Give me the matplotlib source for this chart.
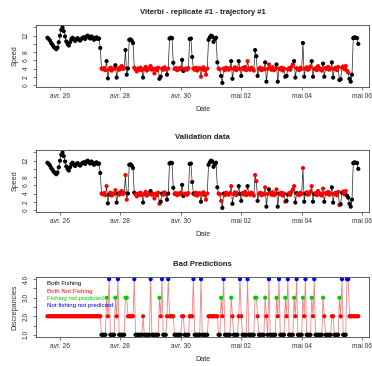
import matplotlib
matplotlib.use('Agg')
import matplotlib.pyplot as plt
import matplotlib.dates as mdates
import numpy as np
import pandas as pd

# hourly speed samples, one row per 24 h, starting 25 April 14:00
speed = [
    11.5, 11.2, 10.8, 10.2, 9.8, 9.3, 9.0, 8.7, 9.1, 10.4, 12.0, 13.4, 14.0, 13.1, 11.8, 10.6, 10.0, 9.6, 10.4, 11.2, 11.5, 11.0, 10.7, 11.2,
    11.4, 11.0, 10.8, 11.2, 11.5, 11.6, 11.2, 11.8, 12.0, 11.6, 11.3, 11.8, 11.5, 11.0, 11.4, 11.6, 11.2, 11.3, 9.0, 4.0, 3.8, 4.1, 3.6, 5.8,
    1.6, 3.8, 4.2, 3.5, 4.0, 3.9, 4.8, 1.8, 4.0, 3.7, 4.3, 4.6, 3.9, 4.1, 8.5, 2.5, 4.0, 11.0, 11.1, 10.8, 10.2, 4.2, 3.8, 3.3,
    4.0, 3.7, 4.2, 3.6, 1.8, 3.9, 4.4, 3.5, 3.8, 4.1, 4.6, 3.7, 3.9, 2.8, 4.0, 3.6, 4.2, 1.5, 2.0, 4.0, 3.7, 4.3, 3.8, 2.5,
    4.0, 11.3, 11.5, 11.4, 5.4, 3.9, 4.1, 3.6, 4.0, 3.8, 4.2, 6.1, 3.4, 3.9, 4.0, 3.7, 4.1, 11.2, 11.3, 6.8, 4.0, 3.7, 4.2, 3.5,
    3.9, 4.1, 2.0, 3.8, 4.3, 3.6, 2.5, 4.0, 11.0, 11.6, 12.0, 11.8, 10.5, 11.2, 11.5, 5.5, 4.0, 3.8, 2.2, 0.5, 4.0, 3.6, 4.2, 3.9,
    3.7, 4.1, 5.8, 1.5, 3.9, 4.3, 3.6, 4.0, 5.8, 3.9, 2.2, 4.1, 3.8, 4.4, 3.6, 5.8, 4.0, 3.7, 4.2, 3.9, 3.5, 8.5, 7.0, 2.2,
    3.9, 4.2, 3.6, 4.0, 3.8, 5.5, 0.8, 3.9, 5.0, 4.1, 3.7, 4.3, 3.6, 3.9, 5.0, 0.8, 4.0, 3.8, 4.2, 3.5, 4.0, 2.0, 2.2, 3.8,
    4.1, 3.7, 4.4, 5.0, 5.8, 1.8, 4.1, 3.8, 3.6, 4.2, 3.9, 10.2, 2.0, 4.0, 4.3, 3.7, 3.9, 4.5, 5.8, 2.0, 3.9, 4.1, 3.6, 4.6,
    3.8, 4.0, 3.5, 5.2, 2.0, 4.1, 3.9, 4.4, 3.7, 4.0, 5.5, 1.8, 3.9, 4.2, 3.6, 4.4, 1.2, 1.4, 4.2, 4.5, 3.8, 4.6, 3.5, 3.0,
    1.5, 0.8, 2.5, 11.4, 11.6, 11.5, 11.4, 10.0,
]

# 1 = fishing, 0 = not fishing
predicted = (
    "000000000000000000000000"
    "000000000000000000011110"
    "011111001111110000000111"
    "111101111111111110011110"
    "100001111110011110001111"
    "111111110000000011001111"
    "110011110101111111111000"
    "111110011111110011111001"
    "111100111110011111001111"
    "111001111100111100111111"
    "00000000"
)
observed = (
    "000000000000000000000000"
    "000000000000000000011111"
    "001111100111111100000011"
    "111101111101111111001110"
    "000001111110011110000111"
    "110111110000000011100111"
    "111011110001111011111110"
    "111111010111111001111100"
    "111110011111001111100111"
    "111101111100111110011100"
    "00000000"
)

tick_dates = ['2013-04-26', '2013-04-28', '2013-04-30', '2013-05-02', '2013-05-04', '2013-05-06']
tick_labels = ['avr. 26', 'avr. 28', 'avr. 30', 'mai 02', 'mai 04', 'mai 06']
legend_labels = ['Both Fishing', 'Both Not Fishing', 'Fishing not predicted', 'Not fishing not predicted']
disc_colors = ['black', 'red', '#00cd00', 'blue']

times = pd.date_range('2013-04-25 14:00', periods=len(speed), freq='h')
t = mdates.date2num(times.to_pydatetime())
speed = np.array(speed)
pred = np.array([int(c) for c in predicted])
obs = np.array([int(c) for c in observed])

# discrepancy code: 1 both fishing, 2 both not, 3 fishing missed, 4 false fishing
disc = np.where(pred == obs, np.where(obs == 1, 1, 2), np.where(obs == 1, 3, 4))

plt.rcParams['font.family'] = ['Liberation Sans', 'DejaVu Sans']
fig = plt.figure(figsize=(3.72, 3.66), dpi=100)

W, H = 372.0, 366.0
left, right = 36 / W, 369 / W
xlim = (mdates.date2num(pd.Timestamp('2013-04-25 04:55')), mdates.date2num(pd.Timestamp('2013-05-06 05:30')))
xt = mdates.date2num(pd.to_datetime(tick_dates).to_pydatetime())


def style_axis(ax, title, ylabel):
    ax.set_xlim(xlim)
    ax.set_xticks(xt)
    ax.set_xticklabels(tick_labels)
    for s in ax.spines.values():
        s.set_color('#444444')
        s.set_linewidth(0.6)
    ax.tick_params(length=2.5, width=0.5, color='#444444', labelsize=4.8, pad=2, labelcolor='#333333')
    for lab in ax.get_yticklabels():
        lab.set_rotation(90)
        lab.set_va('center')
    ax.set_title(title, fontsize=5.6, fontweight='bold', pad=8, color='#222222')
    ax.set_xlabel('Date', fontsize=5.2, labelpad=4, color='#333333')
    ax.set_ylabel(ylabel, fontsize=5.2, labelpad=3, color='#333333')


def speed_panel(ax, states, title):
    ax.plot(t, speed, color='#222222', lw=0.5, zorder=1)
    cols = np.where(states == 1, 'red', 'black')
    ax.scatter(t, speed, c=cols, s=9, lw=0, zorder=2)
    ax.set_ylim(-0.5, 14.6)
    ax.set_yticks(np.arange(0, 15, 2))
    ax.set_yticklabels(['0', '2', '4', '6', '8', '', '12', ''])
    style_axis(ax, title, 'Speed')


ax1 = fig.add_axes([left, 1 - 87 / H, right - left, 62 / H])
speed_panel(ax1, pred, 'Viterbi - replicate #1 - trajectory #1')

ax2 = fig.add_axes([left, 1 - 212 / H, right - left, 62 / H])
speed_panel(ax2, obs, 'Validation data')

ax3 = fig.add_axes([left, 1 - 337 / H, right - left, 60 / H])
ax3.plot(t, disc, color='#e03030', lw=0.6, alpha=0.6, zorder=1)
ax3.scatter(t, disc, c=[disc_colors[d - 1] for d in disc], s=9, lw=0, zorder=2)
ax3.set_ylim(0.88, 4.12)
ax3.set_yticks(np.arange(1, 4.01, 0.5))
ax3.set_yticklabels(['1.0', '', '2.0', '', '3.0', '', '4.0'])
style_axis(ax3, 'Bad Predictions', 'Discrepancies')
for i, (lab, c) in enumerate(zip(legend_labels, disc_colors)):
    fig.text(47 / W, 1 - (284 + 7.3 * i) / H, lab, color=c, fontsize=4.4, va='center', ha='left')

fig.savefig('out.png', dpi=100)
